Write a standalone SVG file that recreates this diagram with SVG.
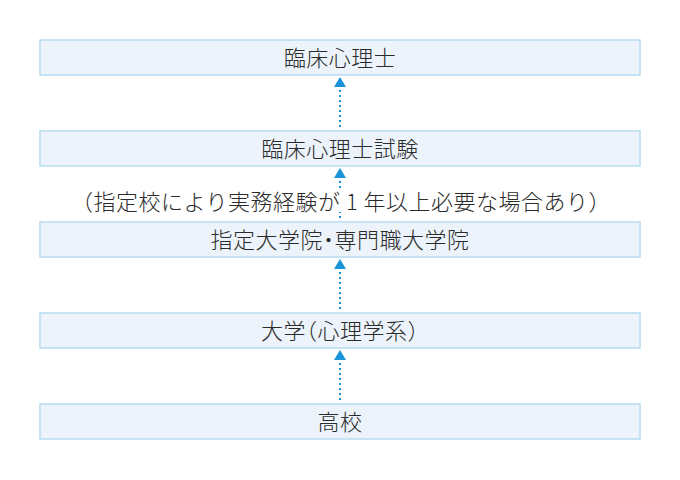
<svg xmlns="http://www.w3.org/2000/svg" width="680" height="480" viewBox="0 0 680 480">
<style>
.box{fill:#ecf3fa;stroke:#b7dcf0;stroke-width:1.5}
.t{font-family:"Noto Sans CJK JP","Noto Sans",sans-serif;font-weight:300;font-size:22px;letter-spacing:0.5px;fill:#2b2b2b;text-anchor:middle}
.halt{font-feature-settings:"halt" 1}
.dot{stroke:#1a94d8;stroke-width:2;stroke-dasharray:2 3;fill:none}
.head{fill:#1a94d8}
</style>
<rect width="680" height="480" fill="#ffffff"/>
<g id="connectors">
<line class="dot" x1="340" y1="127" x2="340" y2="87"/>
<polygon class="head" points="340,77 346,87 334,87"/>
<line class="dot" x1="340" y1="218" x2="340" y2="178"/>
<polygon class="head" points="340,168 346,178 334,178"/>
<line class="dot" x1="340" y1="309" x2="340" y2="269"/>
<polygon class="head" points="340,259 346,269 334,269"/>
<line class="dot" x1="340" y1="400" x2="340" y2="360"/>
<polygon class="head" points="340,350 346,360 334,360"/>
</g>
<g id="label">
<rect x="80" y="188" width="525" height="24" fill="#ffffff"/>
<text class="t" x="341" y="210">（指定校により実務経験が 1 年以上必要な場合あり）</text>
</g>
<g id="n1">
<rect class="box" x="40" y="40" width="600" height="35"/>
<text class="t" x="340" y="66">臨床心理士</text>
</g>
<g id="n2">
<rect class="box" x="40" y="131" width="600" height="35"/>
<text class="t" x="340" y="157">臨床心理士試験</text>
</g>
<g id="n3">
<rect class="box" x="40" y="222" width="600" height="35"/>
<text class="t halt" x="340" y="248">指定大学院・専門職大学院</text>
</g>
<g id="n4">
<rect class="box" x="40" y="313" width="600" height="35"/>
<text class="t halt" x="340" y="339">大学（心理学系）</text>
</g>
<g id="n5">
<rect class="box" x="40" y="404" width="600" height="35"/>
<text class="t" x="340" y="430">高校</text>
</g>
</svg>
